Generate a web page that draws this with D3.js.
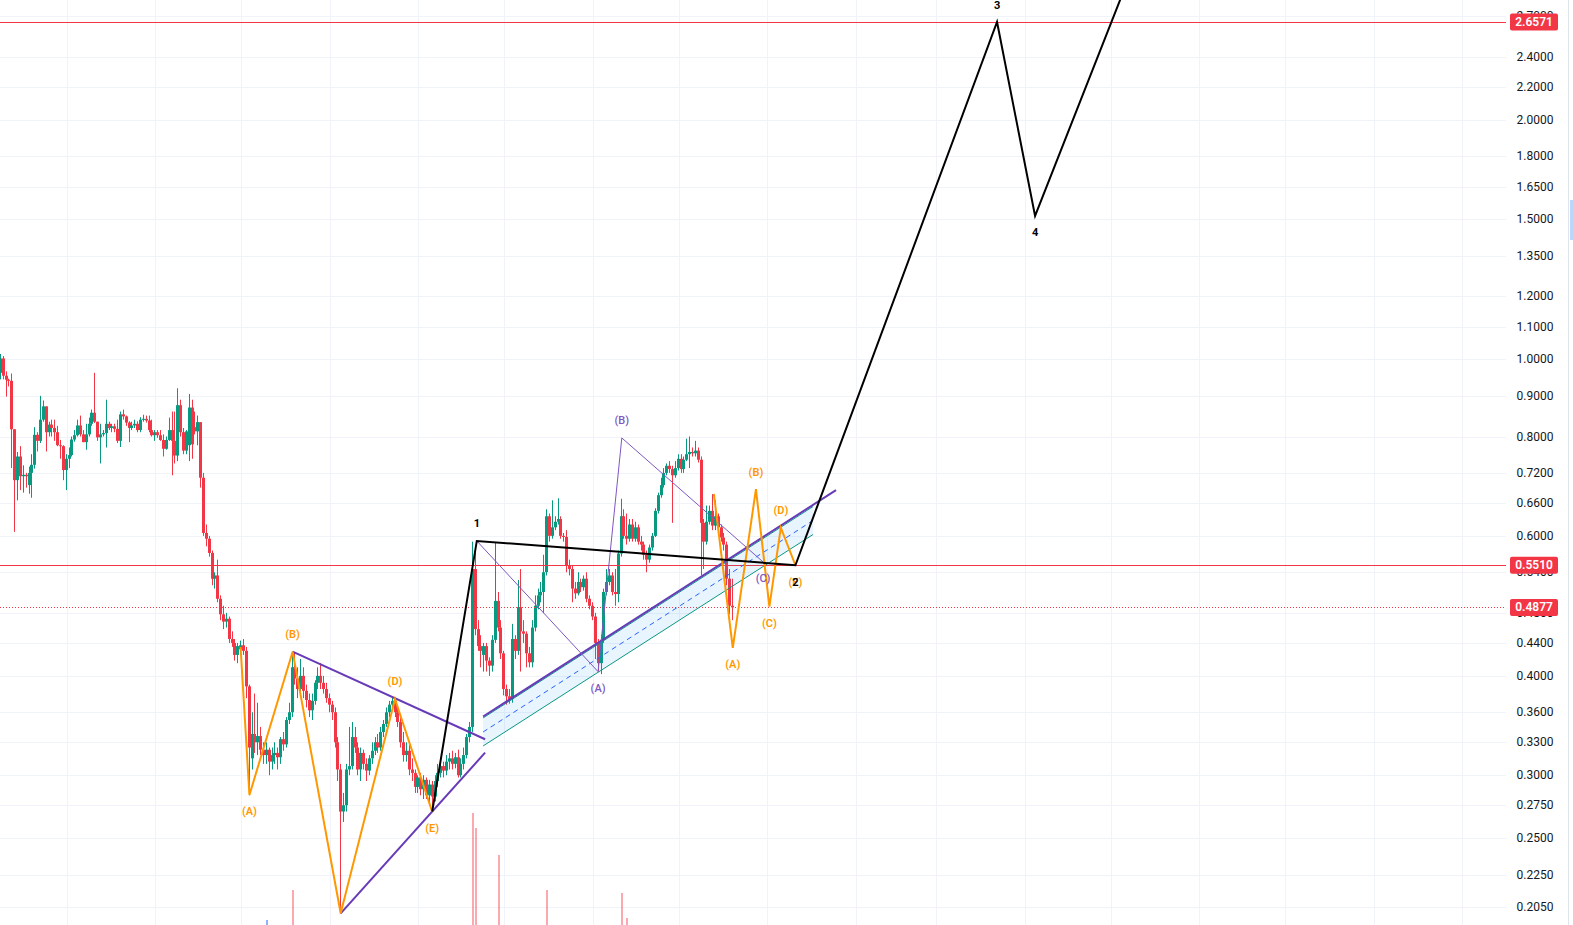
<!DOCTYPE html>
<html><head><meta charset="utf-8">
<script src="https://cdn.jsdelivr.net/npm/d3@7"></script>
<style>
html,body{margin:0;padding:0;background:#fff;overflow:hidden}
svg{display:block}
text{font-family:Roboto,"Noto Sans","DejaVu Sans",sans-serif}
</style></head><body>
<svg id="chart" width="1573" height="925"></svg>
<script>
// ---------- DATA ----------
const firstBarDate = Date.UTC(2022, 3, 8);   // daily candles
const opens = [
0.962,1.003,0.954,0.943,0.940,0.817,0.705,0.755,0.713,0.716,
0.695,0.720,0.737,0.804,0.790,0.840,0.873,0.810,0.828,0.820,
0.810,0.780,0.778,0.726,0.750,0.758,0.793,0.803,0.826,0.805,
0.787,0.805,0.830,0.857,0.835,0.798,0.805,0.808,0.830,0.820,
0.824,0.818,0.790,0.853,0.848,0.833,0.820,0.826,0.830,0.815,
0.840,0.842,0.838,0.815,0.803,0.810,0.803,0.792,0.772,0.792,
0.815,0.790,0.757,0.876,0.810,0.768,0.780,0.870,0.822,0.812,
0.834,0.710,0.605,0.595,0.571,0.530,0.535,0.500,0.478,0.468,
0.472,0.445,0.440,0.425,0.432,0.437,0.430,0.388,0.315,0.338,
0.330,0.336,0.323,0.318,0.323,0.312,0.318,0.320,0.316,0.333,
0.328,0.352,0.360,0.410,0.397,0.385,0.400,0.383,0.373,0.362,
0.372,0.392,0.400,0.392,0.385,0.375,0.368,0.360,0.330,0.305,
0.270,0.275,0.305,0.308,0.335,0.325,0.305,0.320,0.310,0.304,
0.315,0.322,0.330,0.325,0.340,0.348,0.360,0.368,0.372,0.360,
0.350,0.330,0.318,0.322,0.305,0.302,0.290,0.298,0.288,0.296,
0.283,0.292,0.282,0.295,0.302,0.308,0.304,0.312,0.315,0.310,
0.316,0.300,0.310,0.318,0.335,0.345,0.545,0.458,0.436,0.425,
0.436,0.418,0.412,0.444,0.497,0.460,0.427,0.385,0.377,0.374,
0.445,0.430,0.488,0.455,0.452,0.427,0.416,0.460,0.490,0.505,
0.510,0.540,0.635,0.600,0.615,0.625,0.630,0.600,0.598,0.550,
0.545,0.515,0.508,0.525,0.517,0.530,0.500,0.490,0.475,0.440,
0.415,0.444,0.510,0.525,0.535,0.510,0.507,0.570,0.635,0.600,
0.595,0.620,0.595,0.615,0.590,0.585,0.568,0.560,0.580,0.600,
0.645,0.675,0.695,0.720,0.735,0.728,0.715,0.730,0.750,0.728,
0.748,0.760,0.765,0.762,0.768,0.748,0.623,0.590,0.625,0.645,
0.618,0.635,0.615,0.597,0.585,0.530,0.490];
const highs = [
1.016,1.010,0.966,0.946,0.960,0.817,0.765,0.778,0.736,0.720,
0.733,0.760,0.822,0.810,0.900,0.888,0.873,0.835,0.840,0.840,
0.825,0.792,0.780,0.760,0.775,0.800,0.815,0.840,0.850,0.815,
0.830,0.845,0.865,0.962,0.835,0.830,0.815,0.890,0.835,0.830,
0.830,0.840,0.860,0.865,0.850,0.836,0.835,0.840,0.836,0.846,
0.852,0.850,0.850,0.840,0.815,0.815,0.815,0.805,0.800,0.845,
0.860,0.860,0.920,0.890,0.820,0.815,0.905,0.890,0.860,0.850,
0.834,0.720,0.620,0.600,0.575,0.540,0.560,0.505,0.490,0.480,
0.475,0.455,0.445,0.440,0.443,0.445,0.435,0.390,0.360,0.380,
0.370,0.345,0.330,0.330,0.325,0.325,0.330,0.325,0.335,0.340,
0.355,0.370,0.429,0.428,0.410,0.420,0.410,0.390,0.380,0.380,
0.395,0.410,0.415,0.400,0.392,0.380,0.372,0.365,0.335,0.310,
0.285,0.310,0.345,0.350,0.345,0.330,0.325,0.323,0.315,0.318,
0.330,0.335,0.338,0.345,0.352,0.365,0.372,0.376,0.375,0.365,
0.355,0.340,0.330,0.330,0.315,0.305,0.300,0.302,0.300,0.298,
0.296,0.295,0.300,0.310,0.315,0.312,0.318,0.320,0.322,0.320,
0.323,0.315,0.325,0.338,0.350,0.590,0.575,0.470,0.450,0.440,
0.440,0.422,0.450,0.588,0.510,0.470,0.430,0.390,0.385,0.465,
0.450,0.528,0.545,0.470,0.455,0.435,0.470,0.505,0.515,0.525,
0.568,0.648,0.640,0.665,0.635,0.669,0.635,0.605,0.610,0.560,
0.550,0.525,0.540,0.530,0.535,0.540,0.505,0.495,0.480,0.445,
0.450,0.515,0.545,0.545,0.540,0.545,0.575,0.668,0.648,0.640,
0.630,0.630,0.625,0.620,0.600,0.590,0.575,0.585,0.605,0.650,
0.680,0.710,0.730,0.740,0.745,0.735,0.745,0.760,0.760,0.755,
0.795,0.800,0.775,0.790,0.775,0.755,0.630,0.655,0.655,0.677,
0.665,0.640,0.620,0.605,0.590,0.545,0.530];
const lows = [
0.944,0.944,0.898,0.925,0.730,0.607,0.665,0.685,0.680,0.690,
0.678,0.670,0.729,0.766,0.785,0.835,0.766,0.800,0.800,0.790,
0.778,0.750,0.705,0.685,0.730,0.755,0.788,0.800,0.800,0.787,
0.770,0.800,0.825,0.832,0.790,0.740,0.800,0.775,0.815,0.810,
0.810,0.785,0.776,0.840,0.825,0.787,0.815,0.820,0.810,0.810,
0.835,0.833,0.810,0.800,0.790,0.797,0.790,0.755,0.770,0.790,
0.715,0.740,0.745,0.800,0.760,0.760,0.745,0.750,0.805,0.780,
0.690,0.600,0.582,0.565,0.520,0.515,0.495,0.470,0.458,0.460,
0.440,0.435,0.418,0.415,0.425,0.425,0.375,0.283,0.305,0.320,
0.318,0.318,0.310,0.310,0.300,0.305,0.310,0.305,0.310,0.322,
0.325,0.348,0.355,0.390,0.375,0.380,0.375,0.365,0.355,0.352,
0.368,0.385,0.385,0.380,0.370,0.360,0.352,0.325,0.295,0.201,
0.262,0.270,0.300,0.305,0.320,0.300,0.295,0.305,0.295,0.300,
0.310,0.318,0.320,0.322,0.335,0.345,0.355,0.362,0.355,0.345,
0.325,0.312,0.312,0.300,0.295,0.285,0.285,0.283,0.280,0.280,
0.275,0.270,0.278,0.290,0.298,0.298,0.300,0.305,0.305,0.306,
0.298,0.298,0.305,0.315,0.330,0.340,0.450,0.430,0.410,0.405,
0.405,0.400,0.405,0.440,0.455,0.420,0.378,0.368,0.369,0.370,
0.420,0.425,0.405,0.440,0.410,0.410,0.410,0.455,0.485,0.495,
0.480,0.535,0.590,0.595,0.610,0.620,0.595,0.590,0.540,0.535,
0.495,0.500,0.505,0.510,0.512,0.495,0.485,0.470,0.420,0.405,
0.402,0.440,0.505,0.520,0.505,0.490,0.495,0.565,0.595,0.585,
0.590,0.590,0.590,0.585,0.575,0.560,0.540,0.555,0.575,0.598,
0.640,0.670,0.690,0.715,0.720,0.623,0.710,0.725,0.720,0.720,
0.745,0.730,0.755,0.755,0.742,0.535,0.545,0.585,0.620,0.610,
0.610,0.605,0.590,0.575,0.520,0.478,0.470];
const closes = [
1.003,0.954,0.943,0.940,0.817,0.705,0.755,0.713,0.716,0.713,
0.720,0.737,0.804,0.790,0.840,0.873,0.810,0.828,0.820,0.810,
0.780,0.778,0.726,0.750,0.758,0.793,0.803,0.826,0.805,0.787,
0.805,0.830,0.857,0.835,0.798,0.805,0.808,0.830,0.820,0.824,
0.818,0.790,0.853,0.848,0.833,0.820,0.826,0.830,0.815,0.840,
0.842,0.838,0.815,0.803,0.810,0.803,0.792,0.772,0.792,0.815,
0.790,0.757,0.876,0.810,0.768,0.812,0.870,0.782,0.812,0.834,
0.710,0.605,0.595,0.571,0.530,0.535,0.500,0.478,0.468,0.472,
0.445,0.440,0.425,0.436,0.437,0.430,0.388,0.325,0.338,0.330,
0.336,0.323,0.318,0.323,0.312,0.318,0.320,0.316,0.333,0.328,
0.352,0.360,0.410,0.397,0.385,0.400,0.383,0.373,0.362,0.372,
0.392,0.400,0.392,0.385,0.375,0.368,0.360,0.330,0.305,0.270,
0.275,0.305,0.308,0.335,0.325,0.305,0.320,0.310,0.304,0.315,
0.322,0.330,0.325,0.340,0.348,0.360,0.368,0.372,0.360,0.350,
0.330,0.318,0.322,0.305,0.302,0.290,0.298,0.288,0.296,0.283,
0.292,0.282,0.295,0.302,0.308,0.304,0.312,0.315,0.310,0.316,
0.300,0.310,0.318,0.335,0.345,0.545,0.458,0.436,0.430,0.436,
0.418,0.412,0.444,0.497,0.460,0.427,0.385,0.377,0.374,0.445,
0.430,0.488,0.455,0.452,0.427,0.416,0.460,0.490,0.505,0.510,
0.540,0.635,0.600,0.615,0.625,0.630,0.600,0.598,0.550,0.545,
0.515,0.508,0.525,0.517,0.530,0.500,0.490,0.475,0.440,0.415,
0.444,0.510,0.525,0.535,0.510,0.507,0.570,0.635,0.600,0.595,
0.620,0.595,0.615,0.590,0.585,0.568,0.560,0.580,0.600,0.645,
0.675,0.695,0.720,0.735,0.728,0.715,0.730,0.750,0.728,0.748,
0.760,0.765,0.762,0.768,0.748,0.623,0.590,0.625,0.645,0.618,
0.635,0.615,0.597,0.585,0.530,0.490,0.4877];

// volume (only the bars tall enough to show above the bottom edge)
const volumeBarIndex = [93, 102, 165, 166, 174, 191, 217, 219];
const volumeValues   = [0.5, 3.5, 11.2, 9.7, 7.0, 3.5, 3.2, 0.7];
const volumeSide     = ['b','r','r','r','r','r','r','r'];

// price axis ticks
const priceTicks = [2.7,2.4,2.2,2.0,1.8,1.65,1.5,1.35,1.2,1.1,1.0,0.9,0.8,0.72,0.66,0.6,0.54,0.48,0.44,0.40,0.36,0.33,0.30,0.275,0.25,0.225,0.205];

// horizontal lines  (price, dashed?)
const hLinePrices = [2.6571, 0.5510, 0.4877];
const hLineDotted = [false, false, true];

// drawings: [bar index, price]
const orangeWaveA = [[83.8,0.4349],[86.9,0.2833],[102.0,0.4290],[118.8,0.2011],[137.8,0.3741],[150.8,0.2699]];
const orangeWaveALabels = ['', '(A)', '(B)', '', '(D)', '(E)'];
const orangeWaveB = [[249.3,0.6774],[255.9,0.4337],[264.0,0.6867],[268.7,0.4888],[272.7,0.6144],[277.8,0.5510]];
const orangeWaveBLabels = ['', '(A)', '(B)', '(C)', '(D)', '(E)'];
const triangleUpper = [[102.0,0.4290],[169.3,0.3329]];
const triangleLower = [[118.8,0.2011],[169.3,0.3202]];
const purpleABC = [[166.4,0.5912],[208.8,0.4049],[217.1,0.7967],[266.5,0.5563]];
const purpleABCLabels = ['', '(A)', '(B)', '(C)'];
const impulseWave = [[150.8,0.2699],[166.4,0.5912],[277.8,0.5510],[348.3,2.6571],[361.6,1.5153],[405.3,3.80]];
const impulseLabels = ['', '1', '2', '3', '4', ''];
const channelTop    = [[168.6,0.3541],[284.0,0.6533]];
const channelMid    = [[168.6,0.3400],[284.0,0.6274]];
const channelBottom = [[168.6,0.3265],[284.0,0.6024]];
const trendLine     = [[168.6,0.3556],[292.0,0.6849]];

// ---------- LAYOUT ----------
const W = 1573, H = 925, plotRight = 1506;
const DAY = 864e5, pxPerBar = 2.86, firstBarX = 0.9;
const UP = '#089981', DOWN = '#f23645';

const svg = d3.select('#chart');
svg.append('rect').attr('width', W).attr('height', H).attr('fill', '#fff');

const barDate = i => new Date(firstBarDate + i * DAY);
const x = d3.scaleUtc()
  .domain([barDate(-firstBarX / pxPerBar), barDate((plotRight - firstBarX) / pxPerBar)])
  .range([0, plotRight]);
const bx = i => x(barDate(i));
const y = d3.scaleLog().domain([0.1944, 2.832]).range([H, 0]);

svg.append('defs').append('clipPath').attr('id', 'plot')
  .append('rect').attr('x', 0).attr('y', 0).attr('width', plotRight).attr('height', H);

// grid
const grid = svg.append('g').attr('clip-path', 'url(#plot)');
grid.selectAll('line.h').data(priceTicks).join('line')
  .attr('x1', 0).attr('x2', plotRight)
  .attr('y1', d => Math.round(y(d)) + 0.5).attr('y2', d => Math.round(y(d)) + 0.5)
  .attr('stroke', '#f0f3fa').attr('stroke-width', 1);
grid.selectAll('line.v').data(d3.utcMonth.range(x.domain()[0], x.domain()[1])).join('line')
  .attr('x1', d => Math.round(x(d)) + 0.5).attr('x2', d => Math.round(x(d)) + 0.5)
  .attr('y1', 0).attr('y2', H)
  .attr('stroke', '#f0f3fa').attr('stroke-width', 1);

// volume
const vScale = d3.scaleLinear().domain([0, 10]).range([H, H - 100]);
const vol = svg.append('g').attr('clip-path', 'url(#plot)');
vol.selectAll('rect').data(volumeBarIndex).join('rect')
  .attr('x', i => Math.round(bx(i)) - 0.5).attr('width', 1)
  .attr('y', (i, k) => vScale(volumeValues[k]))
  .attr('height', (i, k) => H - vScale(volumeValues[k]))
  .attr('fill', (i, k) => volumeSide[k] === 'b' ? '#2962ff' : '#f7525f');

// candles
const candles = svg.append('g').attr('clip-path', 'url(#plot)');
const idx = d3.range(closes.length);
candles.selectAll('rect.w').data(idx).join('rect')
  .attr('x', i => Math.round(bx(i)) - 1).attr('width', 1)
  .attr('y', i => y(highs[i])).attr('height', i => Math.max(1, y(lows[i]) - y(highs[i])))
  .attr('fill', i => closes[i] >= opens[i] ? UP : DOWN);
candles.selectAll('rect.b').data(idx).join('rect')
  .attr('x', i => Math.round(bx(i)) - 2).attr('width', 3)
  .attr('y', i => y(Math.max(opens[i], closes[i])))
  .attr('height', i => Math.max(1, Math.abs(y(opens[i]) - y(closes[i]))))
  .attr('fill', i => closes[i] >= opens[i] ? UP : DOWN);

// drawings
const dr = svg.append('g').attr('clip-path', 'url(#plot)');
const ln = d3.line().x(d => bx(d[0])).y(d => y(d[1]));

// horizontal lines
dr.selectAll('line.hl').data(hLinePrices).join('line')
  .attr('x1', 0).attr('x2', plotRight)
  .attr('y1', d => Math.round(y(d)) + 0.5).attr('y2', d => Math.round(y(d)) + 0.5)
  .attr('stroke', DOWN).attr('stroke-width', 1)
  .attr('stroke-dasharray', (d, k) => hLineDotted[k] ? '1,2' : null);

// channel
const area = channelTop.concat(channelBottom.slice().reverse());
dr.append('path').attr('d', ln(area) + 'Z').attr('fill', 'rgba(33,150,243,0.10)');
dr.append('path').attr('d', ln(channelTop)).attr('stroke', '#089981').attr('stroke-width', 1).attr('fill', 'none');
dr.append('path').attr('d', ln(channelBottom)).attr('stroke', '#089981').attr('stroke-width', 1).attr('fill', 'none');
dr.append('path').attr('d', ln(channelMid)).attr('stroke', '#2962ff').attr('stroke-width', 1)
  .attr('stroke-dasharray', '5,4').attr('fill', 'none');
dr.append('path').attr('d', ln(trendLine)).attr('stroke', '#673ab7').attr('stroke-width', 2).attr('fill', 'none');

// triangle
dr.append('path').attr('d', ln(triangleUpper)).attr('stroke', '#673ab7').attr('stroke-width', 2).attr('fill', 'none');
dr.append('path').attr('d', ln(triangleLower)).attr('stroke', '#673ab7').attr('stroke-width', 2).attr('fill', 'none');

// purple ABC
dr.append('path').attr('d', ln(purpleABC)).attr('stroke', '#7e57c2').attr('stroke-width', 1).attr('fill', 'none');

// orange waves
[orangeWaveA, orangeWaveB].forEach(w => {
  dr.append('path').attr('d', ln(w)).attr('stroke', '#ff9800').attr('stroke-width', 2)
    .attr('stroke-linejoin', 'miter').attr('fill', 'none');
});

// black impulse
dr.append('path').attr('d', ln(impulseWave)).attr('stroke', '#000').attr('stroke-width', 2)
  .attr('stroke-linejoin', 'miter').attr('fill', 'none');

// labels
function labels(points, texts, color, weight, size) {
  points.forEach((p, k) => {
    const t = texts[k];
    if (!t) return;
    const prev = points[k - 1], next = points[k + 1];
    let isLow;
    if (prev) isLow = p[1] < prev[1]; else isLow = next ? p[1] < next[1] : false;
    const px = bx(p[0]), py = y(p[1]);
    dr.append('text').attr('x', px).attr('y', isLow ? py + 17 : py - 17)
      .attr('text-anchor', 'middle').attr('dominant-baseline', 'central')
      .attr('fill', color).attr('font-size', size).attr('font-weight', weight).text(t);
  });
}
labels(purpleABC, purpleABCLabels, '#7e57c2', 500, 11);
labels(orangeWaveA, orangeWaveALabels, '#ff9800', 600, 11);
labels(orangeWaveB, orangeWaveBLabels, '#ff9800', 600, 11);
labels(impulseWave, impulseLabels, '#000', 700, 11);

// price axis
const ax = svg.append('g');
ax.selectAll('text').data(priceTicks).join('text')
  .attr('x', 1535).attr('y', d => y(d))
  .attr('text-anchor', 'middle').attr('dominant-baseline', 'central')
  .attr('font-size', 12).attr('fill', '#131722')
  .text(d => d3.format('.4f')(d));
const tags = ax.selectAll('g.tag').data(hLinePrices).join('g');
tags.append('rect').attr('x', 1510).attr('width', 48).attr('y', d => y(d) - 8.5).attr('height', 17)
  .attr('rx', 2).attr('fill', DOWN);
tags.append('text').attr('x', 1534).attr('y', d => y(d))
  .attr('text-anchor', 'middle').attr('dominant-baseline', 'central')
  .attr('font-size', 12).attr('font-weight', 600).attr('fill', '#fff')
  .text(d => d3.format('.4f')(d));

// right edge strip
svg.append('line').attr('x1', 1568.5).attr('x2', 1568.5).attr('y1', 0).attr('y2', H)
  .attr('stroke', '#e0e3eb');
svg.append('rect').attr('x', 1570).attr('y', 200).attr('width', 3).attr('height', 40).attr('fill', '#bbd6fb');
</script>
</body></html>
